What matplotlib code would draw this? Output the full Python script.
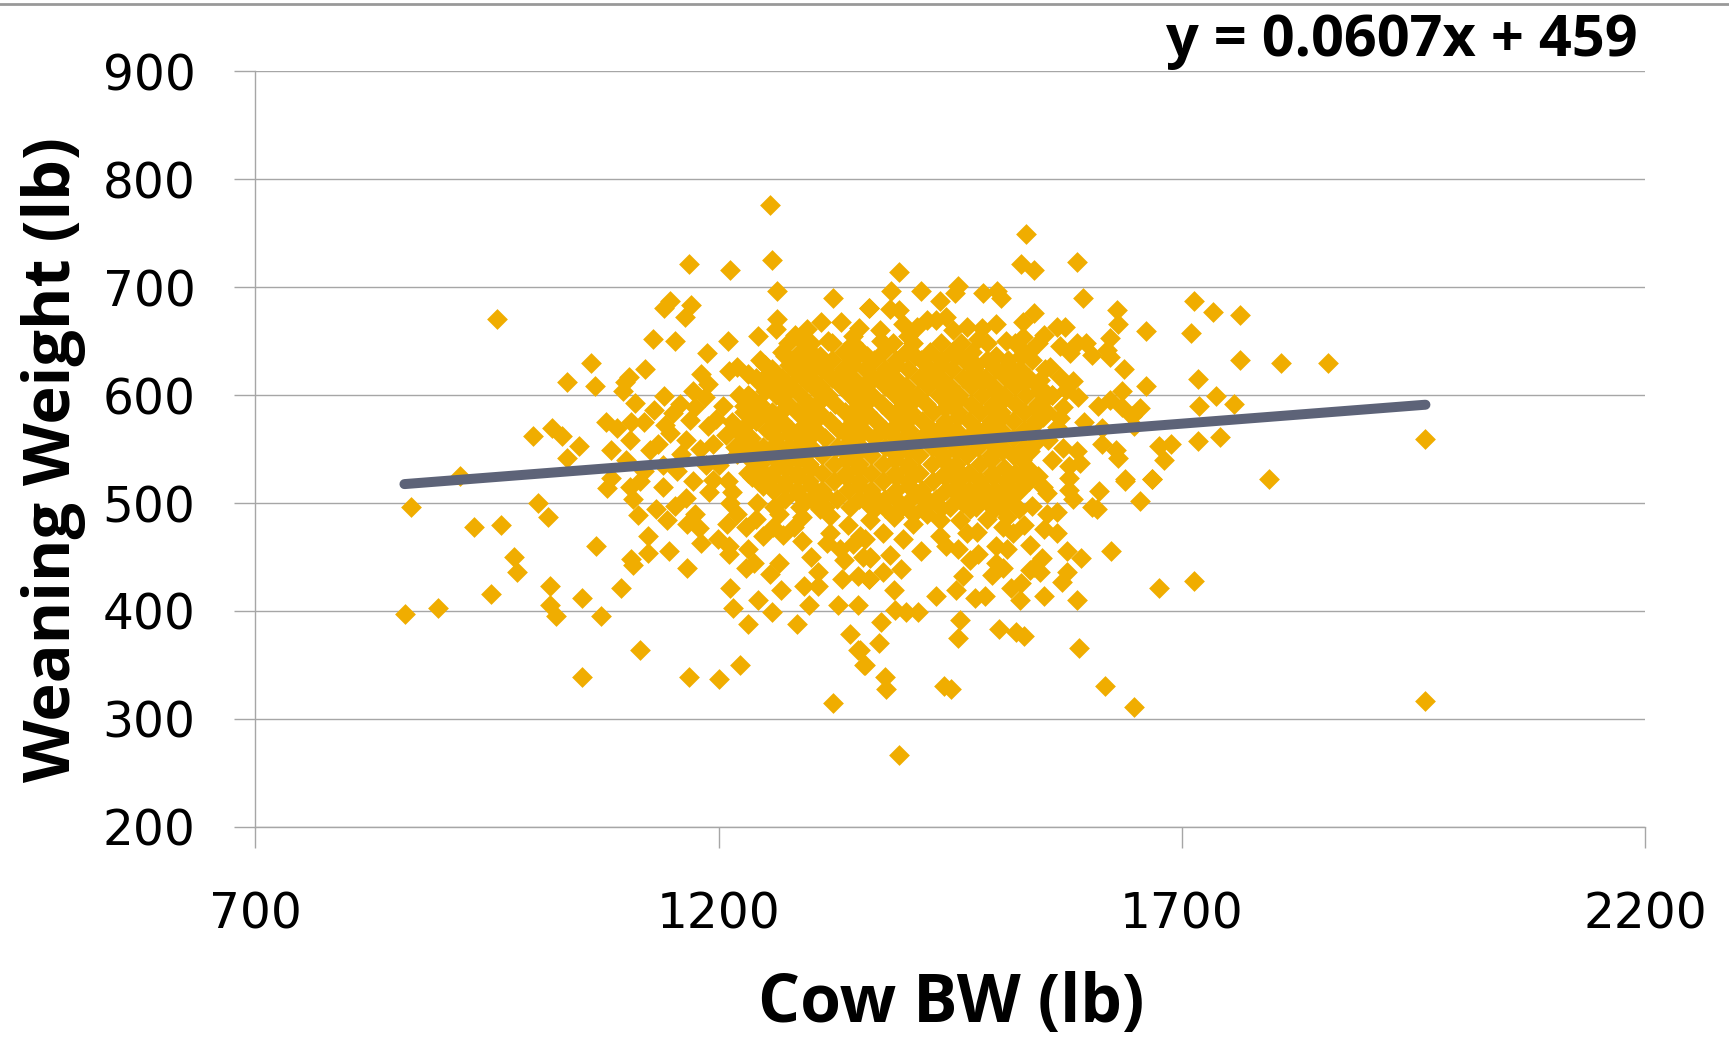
import matplotlib
matplotlib.use("Agg")
import matplotlib.pyplot as plt
from matplotlib.lines import Line2D

# values, (cow bw, weaning wt)
upper_left = [(1256,776),(1168,721),(1212,716),(1258,725),(1263,696),(1324,690),(1362,681),(961,670),
    (1148,687),(1141,681),(1170,683),(1164,672),(1263,670),(1262,661),(1129,652),(1153,650),(1210,650),
    (1243,655),(1283,656),(1296,661),(1311,668),(1188,639),(1062,630),(1121,624),(1103,617),(1099,612),
    (1036,612),(1067,608),(1097,604),(1110,593),(1141,599),(1172,604),(1181,619),(1189,610),(1211,622),
    (1220,626),(1232,619),(1000,562),(1020,569),(1031,562),(1049,553),(1036,542),(1084,549),(1079,575),
    (1090,569),(1106,575),(1130,586),(1151,583),(1175,589),(1189,571),(1104,558),(1126,549),(1148,565),
    (1169,577),(1194,555),(921,525),(1205,590),(1215,575),(1160,545),(1180,550),(1140,535),(1120,530),
    (1200,535),(1220,545),(1100,540),(1142,572),(1158,592),(1120,575),(1185,598),(1197,578),(1165,558),
    (1208,563),(1186,535),(1135,555),(1222,600),(1228,590),(1155,530),(1172,520),(1210,520),(1115,520),
    (1140,515),(1190,510),(1165,505),(1215,510),(1235,530)]

lower_left = [(868,496),(936,478),(965,480),(1005,500),(1016,487),(979,450),(983,436),(954,416),(897,403),
    (862,397),(1018,423),(1018,406),(1025,395),(1053,412),(1068,460),(1095,421),(1073,395),(1115,364),
    (1053,339),(1168,339),(1201,337),(1223,350),(1324,315),(1080,514),(1084,523),(1104,515),(1108,504),
    (1113,489),(1133,494),(1144,484),(1153,497),(1166,481),(1175,490),(1179,477),(1124,469),(1124,454),
    (1106,448),(1108,443),(1146,456),(1181,463),(1166,440),(1199,467),(1211,453),(1232,457),(1230,440),
    (1238,444),(1256,434),(1265,444),(1212,421),(1216,403),(1243,410),(1232,388),(1258,399),(1267,419),
    (1292,423),(1307,423),(1307,436),(1300,450),(1298,406),(1285,388),(1329,406),(1351,406),(1342,379),
    (1351,364),(1357,350),(1333,430),(1351,432),(1362,430),(1356,450),(1364,450),(1335,447),(1317,463),
    (1331,457),(1353,469),(1259,478),(1281,478),(1248,469),(1230,478),(1209,481),(1211,460),(1220,490),
    (1241,500),(1259,512),(1194,521),(1212,500),(1310,494),(1320,472),(1270,470),(1290,465),(1240,485),
    (1265,490),(1290,487),(1340,480),(1320,488),(1345,462)]

upper_right = [(1532,749),(1527,721),(1541,716),(1587,723),(1395,714),(1386,696),(1419,696),(1459,701),
    (1455,694),(1439,687),(1485,694),(1501,696),(1505,690),(1593,690),(1713,687),(1734,677),(1763,674),
    (1630,679),(1631,666),(1661,659),(1710,657),(1763,632),(1807,630),(1858,630),(1717,615),(1737,599),
    (1719,590),(1756,592),(1717,557),(1741,561),(1661,608),(1635,604),(1622,653),(1619,642),(1622,635),
    (1638,624),(1603,637),(1597,648),(1587,648),(1583,613),(1588,598),(1610,590),(1623,595),(1635,589),
    (1655,588),(1646,581),(1595,575),(1614,569),(1648,571),(1569,579),(1614,555),(1629,549),(1631,542),
    (1675,553),(1688,555),(1681,540),(1668,522),(1639,522),(1794,522),(1578,534),(1590,537),(1587,548),
    (1572,551),(1556,558),(1578,523),(1540,676),(1529,668),(1500,666),(1574,663),(1565,663),(1551,656),
    (1529,654),(1569,645),(1579,639),(1558,626),(1547,614),(1569,617),(1554,601),(1572,589),(1484,662),
    (1468,663),(1453,660),(1435,669),(1446,672),(1362,681),(1385,680),(1395,679),(1425,669),(1414,663),
    (1399,666),(1963,559),(1963,317),(1374,660),(1352,662),(1332,668),(1345,655),(1318,650),(1290,650),
    (1300,640),(1375,650),(1405,655),(1480,652),(1510,650),(1535,640),(1560,600),(1575,605),(1565,570)]

lower_right = [(1395,267),(1375,390),(1373,370),(1358,350),(1353,364),(1380,339),(1381,328),(1443,331),
    (1451,328),(1461,392),(1459,375),(1503,383),(1521,381),(1530,377),(1589,366),(1617,331),(1648,311),
    (1675,421),(1713,428),(1624,456),(1591,449),(1576,456),(1576,436),(1571,427),(1587,410),(1551,414),
    (1525,410),(1527,426),(1516,421),(1488,414),(1477,412),(1456,419),(1435,414),(1464,432),(1415,399),
    (1402,399),(1390,401),(1389,419),(1397,439),(1377,436),(1362,430),(1419,456),(1385,452),(1363,449),
    (1399,467),(1378,472),(1358,467),(1410,481),(1425,490),(1363,484),(1389,487),(1439,469),(1446,460),
    (1459,457),(1471,447),(1480,453),(1500,460),(1511,457),(1495,433),(1507,440),(1500,444),(1536,461),
    (1551,476),(1565,472),(1540,441),(1549,449),(1547,436),(1536,438),(1518,472),(1507,478),(1511,487),
    (1479,473),(1468,472),(1461,484),(1439,484),(1471,494),(1565,492),(1554,509),(1578,512),(1583,504),
    (1611,511),(1639,520),(1668,522),(1655,502),(1603,496),(1609,494),(1538,497),(1524,494),(1497,494),
    (1504,506),(1479,512),(1464,500),(1453,512),(1425,500),(1389,506),(1363,497),(1407,515),(1410,490),
    (1380,495),(1440,495),(1490,485),(1530,480),(1555,490),(1545,525),(1560,540),(1550,515)]

# dense middle, too overlapped to separate, read by rows
core_wt = [648,640,632,624,616,608,600,592,584,576,568,560,552,544,536,528,520,512,504,496]
core_bw = [
    [1275,1300,1322,1345,1388,1410,1440,1462,1490,1520,1545],
    [1268,1288,1335,1355,1378,1402,1428,1452,1474,1530],
    [1245,1280,1300,1322,1345,1368,1392,1418,1440,1465,1490,1512,1538],
    [1258,1290,1312,1334,1358,1380,1405,1428,1452,1476,1500,1525,1552],
    [1240,1268,1300,1322,1345,1368,1390,1416,1440,1464,1488,1510,1535],
    [1255,1278,1310,1332,1356,1380,1402,1426,1450,1472,1496,1520,1545],
    [1232,1262,1288,1318,1342,1366,1390,1414,1438,1460,1484,1508,1532,1560],
    [1245,1275,1298,1326,1352,1376,1400,1424,1448,1472,1496,1520,1545],
    [1228,1258,1285,1308,1336,1360,1385,1408,1432,1458,1482,1505,1530,1555],
    [1240,1268,1295,1320,1345,1370,1395,1420,1444,1470,1494,1518,1542],
    [1222,1252,1278,1305,1330,1356,1380,1406,1430,1456,1480,1505,1530],
    [1235,1262,1290,1315,1342,1368,1392,1418,1442,1468,1492,1518,1545],
    [1218,1248,1275,1300,1328,1354,1380,1404,1430,1456,1480,1506,1530],
    [1230,1258,1288,1312,1340,1365,1392,1416,1442,1468,1494,1518],
    [1245,1272,1298,1325,1352,1378,1404,1430,1456,1482],
    [1232,1258,1285,1312,1338,1365,1390,1416,1444,1470,1495,1520],
    [1245,1272,1298,1325,1352,1378,1405,1432,1458,1482,1510,1535],
    [1260,1285,1312,1340,1365,1392,1420,1445,1470,1498,1525],
    [1272,1300,1328,1352,1380,1408,1435,1460,1488,1515],
    [1260,1288,1315,1342,1370,1398,1422,1450,1478,1505],
]

# second pass over the same middle, marks showing between the rows above
fill_wt = [636,628,620,612,604,596,588,580,572,564,556,548,540,532,524,516,508]
fill_bw = [
    [1272,1310,1360,1412,1456,1500,1526],
    [1250,1276,1305,1345,1392,1440,1478,1512],
    [1254,1285,1333,1380,1428,1476,1522],
    [1244,1266,1296,1344,1392,1438,1484,1530],
    [1250,1275,1306,1354,1402,1450,1498,1546],
    [1236,1268,1312,1364,1412,1460,1508,1552],
    [1244,1272,1298,1348,1396,1444,1494,1542],
    [1234,1254,1308,1358,1408,1458,1506,1550],
    [1230,1264,1292,1342,1392,1442,1492,1540],
    [1224,1276,1302,1354,1404,1454,1504,1538],
    [1234,1262,1288,1340,1392,1442,1494,1542],
    [1222,1244,1298,1352,1404,1456,1506,1536],
    [1236,1262,1286,1338,1390,1442,1494,1528],
    [1244,1272,1300,1350,1404,1456,1508,1534],
    [1236,1258,1286,1338,1392,1444,1496,1524],
    [1248,1272,1300,1352,1406,1458,1484,1512],
    [1286,1314,1366,1420,1474,1502],
]

line_bw = [861, 1963]
line_wt = [517.5, 591]
x_ticks = [700, 1200, 1700, 2200]
y_ticks = [200, 300, 400, 500, 600, 700, 800, 900]

bw = []
wt = []
for pts in [upper_left, lower_left, upper_right, lower_right]:
    for p in pts:
        bw.append(p[0])
        wt.append(p[1])
for w, row in list(zip(core_wt, core_bw)) + list(zip(fill_wt, fill_bw)):
    for b in row:
        bw.append(b)
        wt.append(w)

plt.rcParams['font.family'] = ['DejaVu Sans']
grey = '#A6A6A6'

fig = plt.figure(figsize=(17.29, 10.38), dpi=100)
ax = fig.add_axes([255.3/1729, 1 - 827/1038, (1645 - 255.3)/1729, (827 - 71)/1038])

ax.scatter(bw, wt, marker='D', s=112, color='#F0AD00', linewidths=0, zorder=3, clip_on=False)
ax.plot(line_bw, line_wt, color='#5D6378', lw=7.2, solid_capstyle='round', zorder=4)

ax.set_xlim(700, 2200)
ax.set_ylim(200, 900)
ax.set_xticks(x_ticks)
ax.set_yticks(y_ticks)
ax.grid(axis='y', color=grey, lw=1)
ax.set_axisbelow(True)
for s in ['top', 'right']:
    ax.spines[s].set_visible(False)
for s in ['left', 'bottom']:
    ax.spines[s].set_color(grey)
    ax.spines[s].set_linewidth(1)
ax.tick_params(axis='x', length=15, width=1, color=grey, labelsize=35, pad=31)
ax.tick_params(axis='y', length=15, width=1, color=grey, labelsize=35, pad=28)

fig.text(951/1729, 1 - 1005/1038, 'Cow BW (lb)', fontsize=47.5, fontweight='bold',
         family='Open Sans', ha='center', va='center')
fig.text(54/1729, 1 - 460/1038, 'Weaning Weight (lb)', fontsize=46.6, fontweight='bold',
         family='Open Sans', rotation=90, ha='center', va='center')
fig.text(1638/1729, 1 - 41/1038, 'y = 0.0607x + 459', fontsize=41.5, fontweight='bold',
         family='Open Sans', ha='right', va='center')

fig.add_artist(Line2D([0, 1], [1 - 4/1038, 1 - 4/1038], color='#999999', lw=2))

fig.savefig('out.png', dpi=100)
